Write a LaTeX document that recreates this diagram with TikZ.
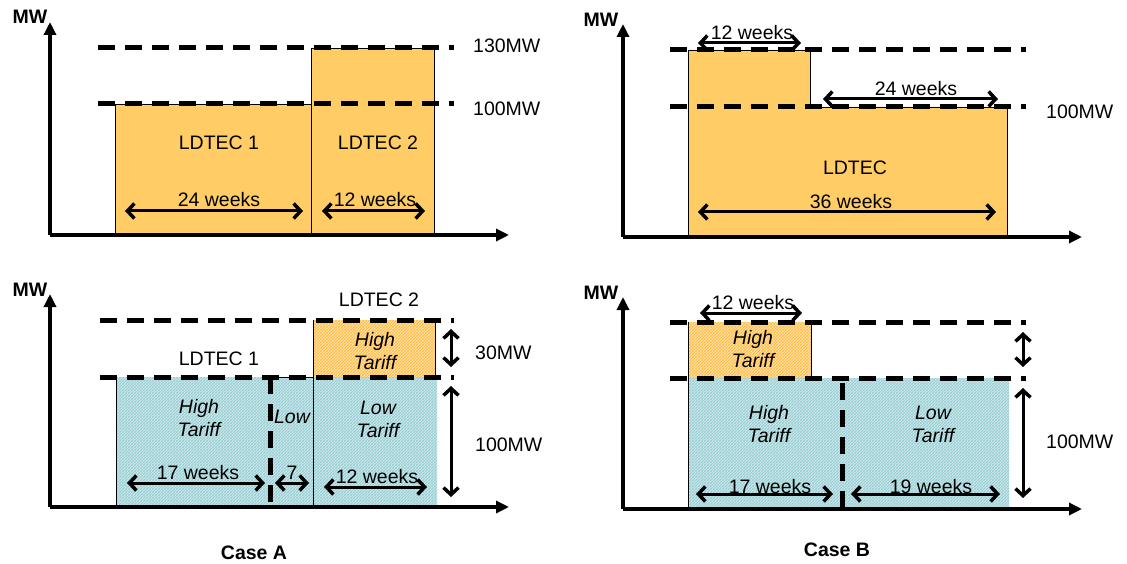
\documentclass[tikz,border=0pt]{standalone}
\usepackage{fontspec}
\setmainfont{Liberation Sans}
\usetikzlibrary{arrows.meta,patterns,patterns.meta}
\definecolor{ldorange}{RGB}{255,204,102}
\definecolor{hblue}{RGB}{150,206,212}
\definecolor{horange}{RGB}{255,190,72}
\tikzdeclarepattern{
  name=mystripes,
  type=uncolored,
  bounding box={(-1pt,-1pt) and (4pt,4pt)},
  tile size={(3pt,3pt)},
  code={\pgfsetlinewidth{1.3pt}\draw (-1pt,-1pt) -- (4pt,4pt);}
}
\begin{document}
\begin{tikzpicture}[x=1pt,y=-1pt,
  axis/.style={line width=3.5pt,-{Triangle[length=13pt,width=12pt]}},
  dashline/.style={line width=5pt,dash pattern=on 17pt off 10pt},
  dimarrow/.style={line width=3pt,{Straight Barb[length=7pt,width=15pt,line width=3.5pt]}-{Straight Barb[length=7pt,width=15pt,line width=3.5pt]}},
  solidbox/.style={fill=ldorange,draw=black,line width=0.8pt},
  bluehatch/.style={pattern=mystripes,pattern color=hblue},
  orangehatch/.style={pattern=mystripes,pattern color=horange},
  thin edge/.style={draw=black,line width=0.8pt},
  lbl/.style={font=\fontsize{19.5}{22}\selectfont,inner sep=0pt},
  ital/.style={font=\fontsize{19.5}{23}\selectfont\itshape,inner sep=0pt,align=center},
  mw/.style={font=\fontsize{19.5}{20}\selectfont\bfseries,inner sep=0pt},
  casel/.style={font=\fontsize{19.5}{22}\selectfont\bfseries,inner sep=0pt}
]
\useasboundingbox[fill=white] (0,0) rectangle (1127,564);

% ================= Top-left =================
\coordinate (tlO) at (50,235);
\coordinate (tlY) at (50,22);
\coordinate (tlX) at (509,235);
\fill[solidbox] (115,104) rectangle (311,235);
\fill[solidbox] (311,48) rectangle (434,235);
\coordinate (tlD1a) at (98,48);  \coordinate (tlD1b) at (454,48);
\coordinate (tlD2a) at (98,104); \coordinate (tlD2b) at (454,104);
\draw[dashline] (tlD1a) -- (tlD1b);
\draw[dashline] (tlD2a) -- (tlD2b);
\draw[axis] (tlO) -- (tlY);
\draw[axis] (tlO) -- (tlX);
\node[mw] (tlMW) at (30,17) {MW};
\node[lbl,anchor=west] (tl130) at (473,46) {130MW};
\node[lbl,anchor=west] (tl100) at (473,109) {100MW};
\node[lbl] (tlL1) at (219,143) {LDTEC 1};
\node[lbl] (tlL2) at (378,143) {LDTEC 2};
\node[lbl] (tlw24) at (219,200) {24 weeks};
\node[lbl] (tlw12) at (375,200) {12 weeks};
\coordinate (tla1) at (125,211); \coordinate (tla2) at (303,211);
\coordinate (tlb1) at (322,211); \coordinate (tlb2) at (425,211);
\draw[dimarrow] (tla1) -- (tla2);
\draw[dimarrow] (tlb1) -- (tlb2);

% ================= Top-right =================
\coordinate (trO) at (623,237);
\coordinate (trY) at (623,24);
\coordinate (trX) at (1082,237);
\fill[solidbox] (688,237) -- (688,50) -- (810,50) -- (810,107) -- (1007,107) -- (1007,237) -- cycle;
\coordinate (trD1a) at (670,50);  \coordinate (trD1b) at (1026,50);
\coordinate (trD2a) at (670,107); \coordinate (trD2b) at (1026,107);
\draw[dashline] (trD1a) -- (trD1b);
\draw[dashline] (trD2a) -- (trD2b);
\draw[axis] (trO) -- (trY);
\draw[axis] (trO) -- (trX);
\node[mw] (trMW) at (601,20) {MW};
\node[lbl,anchor=west] (tr100) at (1046,112) {100MW};
\node[lbl] (trw12) at (752,33) {12 weeks};
\coordinate (tra1) at (698,43); \coordinate (tra2) at (801,43);
\draw[dimarrow] (tra1) -- (tra2);
\node[lbl] (trw24) at (916,89) {24 weeks};
\coordinate (trb1) at (823,99); \coordinate (trb2) at (998,99);
\draw[dimarrow] (trb1) -- (trb2);
\node[lbl] (trL) at (855,168) {LDTEC};
\node[lbl] (trw36) at (851,202) {36 weeks};
\coordinate (trc1) at (698,212); \coordinate (trc2) at (996,212);
\draw[dimarrow] (trc1) -- (trc2);

% ================= Bottom-left =================
\coordinate (blO) at (50,507);
\coordinate (blY) at (50,294);
\coordinate (blX) at (509,507);
\fill[bluehatch] (116,377) rectangle (437,507);
\fill[orangehatch] (313,320) rectangle (435,377);
\draw[thin edge] (116,377) -- (116,507);
\draw[thin edge] (313,320) -- (313,507);
\draw[thin edge] (435,320) -- (435,377);
\draw[thin edge] (270,377) -- (313,377);
\coordinate (blD1a) at (100,320); \coordinate (blD1b) at (454,320);
\coordinate (blD2a) at (100,377); \coordinate (blD2b) at (454,377);
\draw[dashline] (blD1a) -- (blD1b);
\draw[dashline] (blD2a) -- (blD2b);
\coordinate (blV1) at (270,377); \coordinate (blV2) at (270,507);
\draw[dashline] (blV1) -- (blV2);
\draw[axis] (blO) -- (blY);
\draw[axis] (blO) -- (blX);
\node[mw] (blMW) at (30,290) {MW};
\node[lbl] (blL2) at (379,300) {LDTEC 2};
\node[lbl] (blL1) at (219,359) {LDTEC 1};
\node[ital] (blHT2) at (375,351) {High\\Tariff};
\node[ital] (blHT1) at (199,418) {High\\Tariff};
\node[ital] (blLow) at (292,417) {Low};
\node[ital] (blLT) at (378,419) {Low\\Tariff};
\node[lbl] (blw17) at (198,473) {17 weeks};
\node[lbl] (blw7) at (292,473) {7};
\node[lbl] (blw12) at (377,477) {12 weeks};
\coordinate (bla1) at (127,483); \coordinate (bla2) at (265,483);
\coordinate (blb1) at (275,483); \coordinate (blb2) at (309,483);
\coordinate (blc1) at (324,487); \coordinate (blc2) at (427,487);
\draw[dimarrow] (bla1) -- (bla2);
\draw[dimarrow] (blb1) -- (blb2);
\draw[dimarrow] (blc1) -- (blc2);
\coordinate (blr1) at (451,329); \coordinate (blr2) at (451,367);
\coordinate (blr3) at (451,386); \coordinate (blr4) at (451,497);
\draw[dimarrow] (blr1) -- (blr2);
\draw[dimarrow] (blr3) -- (blr4);
\node[lbl,anchor=west] (bl30) at (475,353) {30MW};
\node[lbl,anchor=west] (bl100) at (475,445) {100MW};
\node[casel] (caseA) at (254,553) {Case A};

% ================= Bottom-right =================
\coordinate (brO) at (623,509);
\coordinate (brY) at (623,297);
\coordinate (brX) at (1082,509);
\fill[orangehatch] (688,322) rectangle (811,378);
\fill[bluehatch] (688,378) rectangle (1009,509);
\draw[thin edge] (688,322) -- (688,509);
\draw[thin edge] (811,322) -- (811,378);
\coordinate (brD1a) at (670,322); \coordinate (brD1b) at (1026,322);
\coordinate (brD2a) at (670,378); \coordinate (brD2b) at (1026,378);
\draw[dashline] (brD1a) -- (brD1b);
\draw[dashline] (brD2a) -- (brD2b);
\coordinate (brV1) at (842,383); \coordinate (brV2) at (842,509);
\draw[dashline] (brV1) -- (brV2);
\draw[axis] (brO) -- (brY);
\draw[axis] (brO) -- (brX);
\node[mw] (brMW) at (601,293) {MW};
\node[lbl] (brw12) at (753,303) {12 weeks};
\coordinate (bra1) at (700,313); \coordinate (bra2) at (802,313);
\draw[dimarrow] (bra1) -- (bra2);
\node[ital] (brHT2) at (753,349) {High\\Tariff};
\node[ital] (brHT1) at (769,424) {High\\Tariff};
\node[ital] (brLT) at (933,424) {Low\\Tariff};
\node[lbl] (brw17) at (770,487) {17 weeks};
\node[lbl] (brw19) at (931,487) {19 weeks};
\coordinate (brb1) at (696,494); \coordinate (brb2) at (833,494);
\coordinate (brc1) at (851,494); \coordinate (brc2) at (1000,494);
\draw[dimarrow] (brb1) -- (brb2);
\draw[dimarrow] (brc1) -- (brc2);
\coordinate (brr1) at (1023,332); \coordinate (brr2) at (1023,367);
\coordinate (brr3) at (1023,388); \coordinate (brr4) at (1023,498);
\draw[dimarrow] (brr1) -- (brr2);
\draw[dimarrow] (brr3) -- (brr4);
\node[lbl,anchor=west] (br100) at (1046,442) {100MW};
\node[casel] (caseB) at (837,550) {Case B};
\end{tikzpicture}
\end{document}
